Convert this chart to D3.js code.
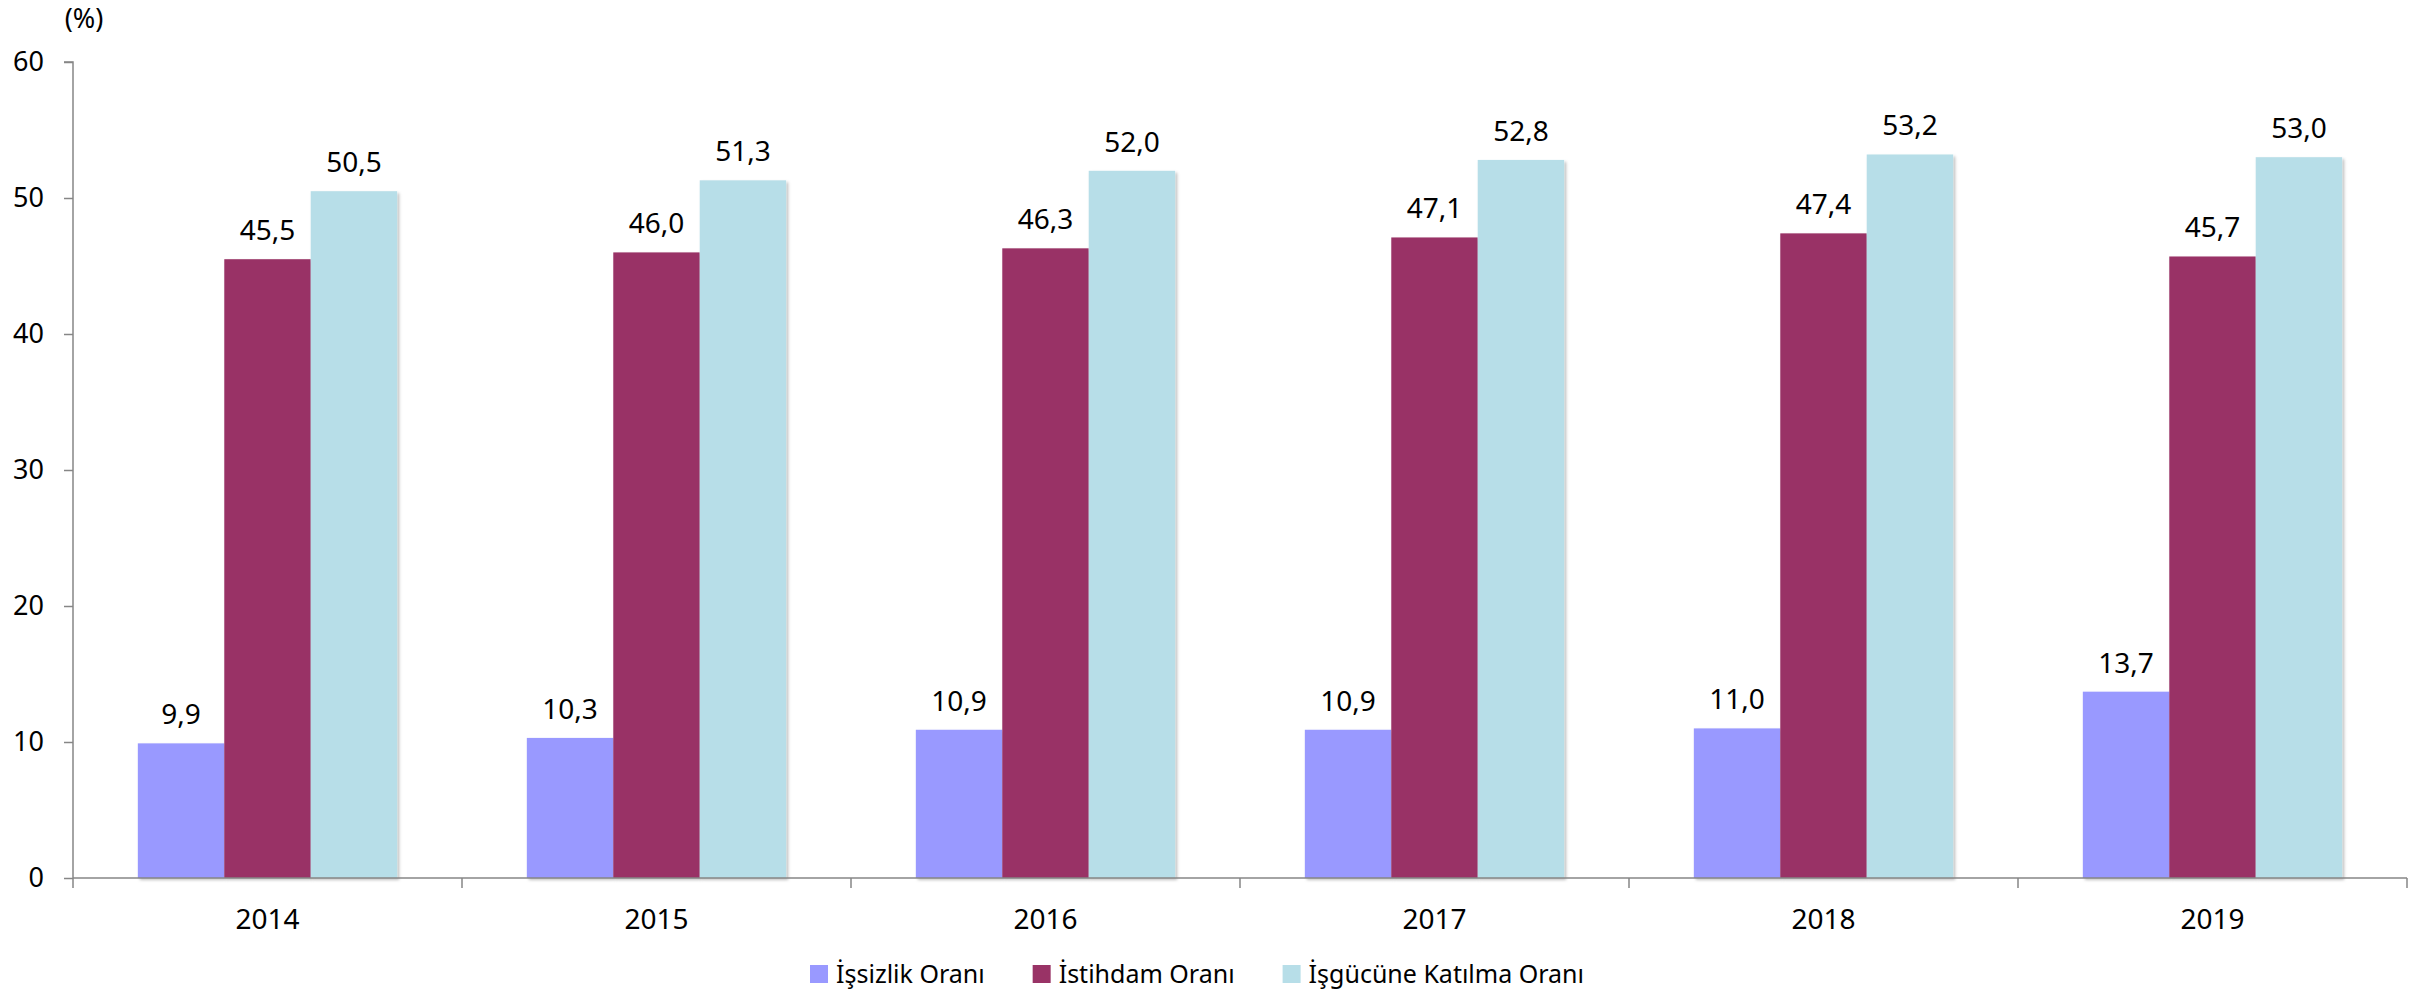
<!DOCTYPE html>
<html>
<head>
<meta charset="utf-8">
<script src="https://cdn.jsdelivr.net/npm/d3@7"></script>
<style>
  html, body { margin: 0; padding: 0; background: #fff; }
  svg { display: block; font-family: "Noto Sans", "Open Sans", sans-serif; }
</style>
</head>
<body>
<svg id="chart" width="2422" height="993"></svg>
<script>
// values
var years = ["2014", "2015", "2016", "2017", "2018", "2019"];
var seriesNames = ["İşsizlik Oranı", "İstihdam Oranı", "İşgücüne Katılma Oranı"];
var issizlik = [9.9, 10.3, 10.9, 10.9, 11.0, 13.7];
var istihdam = [45.5, 46.0, 46.3, 47.1, 47.4, 45.7];
var katilma = [50.5, 51.3, 52.0, 52.8, 53.2, 53.0];
var colors = ["#9999ff", "#993366", "#b7dee8"];
var yTicks = [0, 10, 20, 30, 40, 50, 60];

var values = [issizlik, istihdam, katilma];
var data = years.map(function(y, i) {
  return { year: y, vals: seriesNames.map(function(s, k) { return { key: s, k: k, value: values[k][i] }; }) };
});

var svg = d3.select("#chart");
// note: "top" is taken by window.top, so plot edges get their own names
var plotLeft = 73, plotRight = 2407, plotTop = 62, plotBottom = 878;

var defs = svg.append("defs");
defs.append("filter").attr("id", "shadow")
  .attr("x", "-10%").attr("y", "-10%").attr("width", "130%").attr("height", "130%")
  .append("feDropShadow")
  .attr("dx", 2).attr("dy", 2).attr("stdDeviation", 1.5)
  .attr("flood-color", "#000").attr("flood-opacity", 0.25);

var x0 = d3.scaleBand().domain(years).range([plotLeft, plotRight]).padding(0);
var x1 = d3.scaleBand().domain(seriesNames).range([0, x0.bandwidth()])
  .paddingInner(0).paddingOuter(0.75);
var y = d3.scaleLinear().domain([0, 60]).range([plotBottom, plotTop]);

var fmt = function(v) { return d3.format(".1f")(v).replace(".", ","); };

// bars
var groups = svg.append("g").selectAll("g").data(data).enter().append("g")
  .attr("transform", function(d) { return "translate(" + x0(d.year) + ",0)"; });

groups.selectAll("rect").data(function(d) { return d.vals; }).enter().append("rect")
  .attr("x", function(d) { return x1(d.key); })
  .attr("y", function(d) { return y(d.value); })
  .attr("width", x1.bandwidth())
  .attr("height", function(d) { return y(0) - y(d.value); })
  .attr("fill", function(d) { return colors[d.k]; })
  .attr("filter", "url(#shadow)");

groups.selectAll("text").data(function(d) { return d.vals; }).enter().append("text")
  .attr("x", function(d) { return x1(d.key) + x1.bandwidth() / 2; })
  .attr("y", function(d) { return y(d.value) - 19; })
  .attr("text-anchor", "middle")
  .attr("font-size", 28)
  .attr("fill", "#000")
  .text(function(d) { return fmt(d.value); });

// y axis
var yAxis = d3.axisLeft(y).tickValues(yTicks).tickSize(9).tickPadding(20)
  .tickFormat(d3.format("d"));
var gy = svg.append("g").attr("transform", "translate(" + plotLeft + ",0)").call(yAxis);
gy.select(".domain").attr("stroke", "#868686").attr("stroke-width", 1.5)
  .attr("d", "M-9," + plotTop + "H0V" + (plotBottom + 10));
gy.selectAll(".tick line").attr("stroke", "#868686").attr("stroke-width", 1.5);
gy.selectAll(".tick text").attr("font-size", 27).attr("fill", "#000")
  .attr("font-family", "Noto Sans, Open Sans, sans-serif");

// x axis
var xAxis = d3.axisBottom(x0).tickSize(0).tickPadding(31);
var gx = svg.append("g").attr("transform", "translate(0," + plotBottom + ")").call(xAxis);
gx.select(".domain").attr("stroke", "#868686").attr("stroke-width", 1.5)
  .attr("d", "M" + plotLeft + ",0H" + plotRight);
gx.selectAll(".tick text").attr("font-size", 28).attr("fill", "#000")
  .attr("font-family", "Noto Sans, Open Sans, sans-serif");
// category separators
gx.selectAll(".sep").data(years.slice(1).concat(["end"])).enter().append("line")
  .attr("class", "sep")
  .attr("x1", function(d, i) { return plotLeft + (i + 1) * x0.step(); })
  .attr("x2", function(d, i) { return plotLeft + (i + 1) * x0.step(); })
  .attr("y1", 0).attr("y2", 10)
  .attr("stroke", "#868686").attr("stroke-width", 1.5);

// unit label
svg.append("text").attr("x", 84).attr("y", 28).attr("text-anchor", "middle")
  .attr("font-size", 27).text("(%)");

// legend
var legend = svg.append("g");
var lx = 0;
var items = legend.selectAll("g").data(seriesNames).enter().append("g");
items.append("rect").attr("x", 0).attr("y", -18).attr("width", 18).attr("height", 18)
  .attr("fill", function(d, i) { return colors[i]; });
items.append("text").attr("x", 26).attr("y", 0).attr("font-size", 25)
  .text(function(d) { return d; });
items.each(function() {
  var g = d3.select(this);
  var w = 26 + g.select("text").node().getComputedTextLength();
  g.attr("transform", "translate(" + lx + ",0)");
  lx += w + 48;
});
var totalW = lx - 48;
legend.attr("transform", "translate(" + (1197 - totalW / 2) + ",983)");
</script>
</body>
</html>
